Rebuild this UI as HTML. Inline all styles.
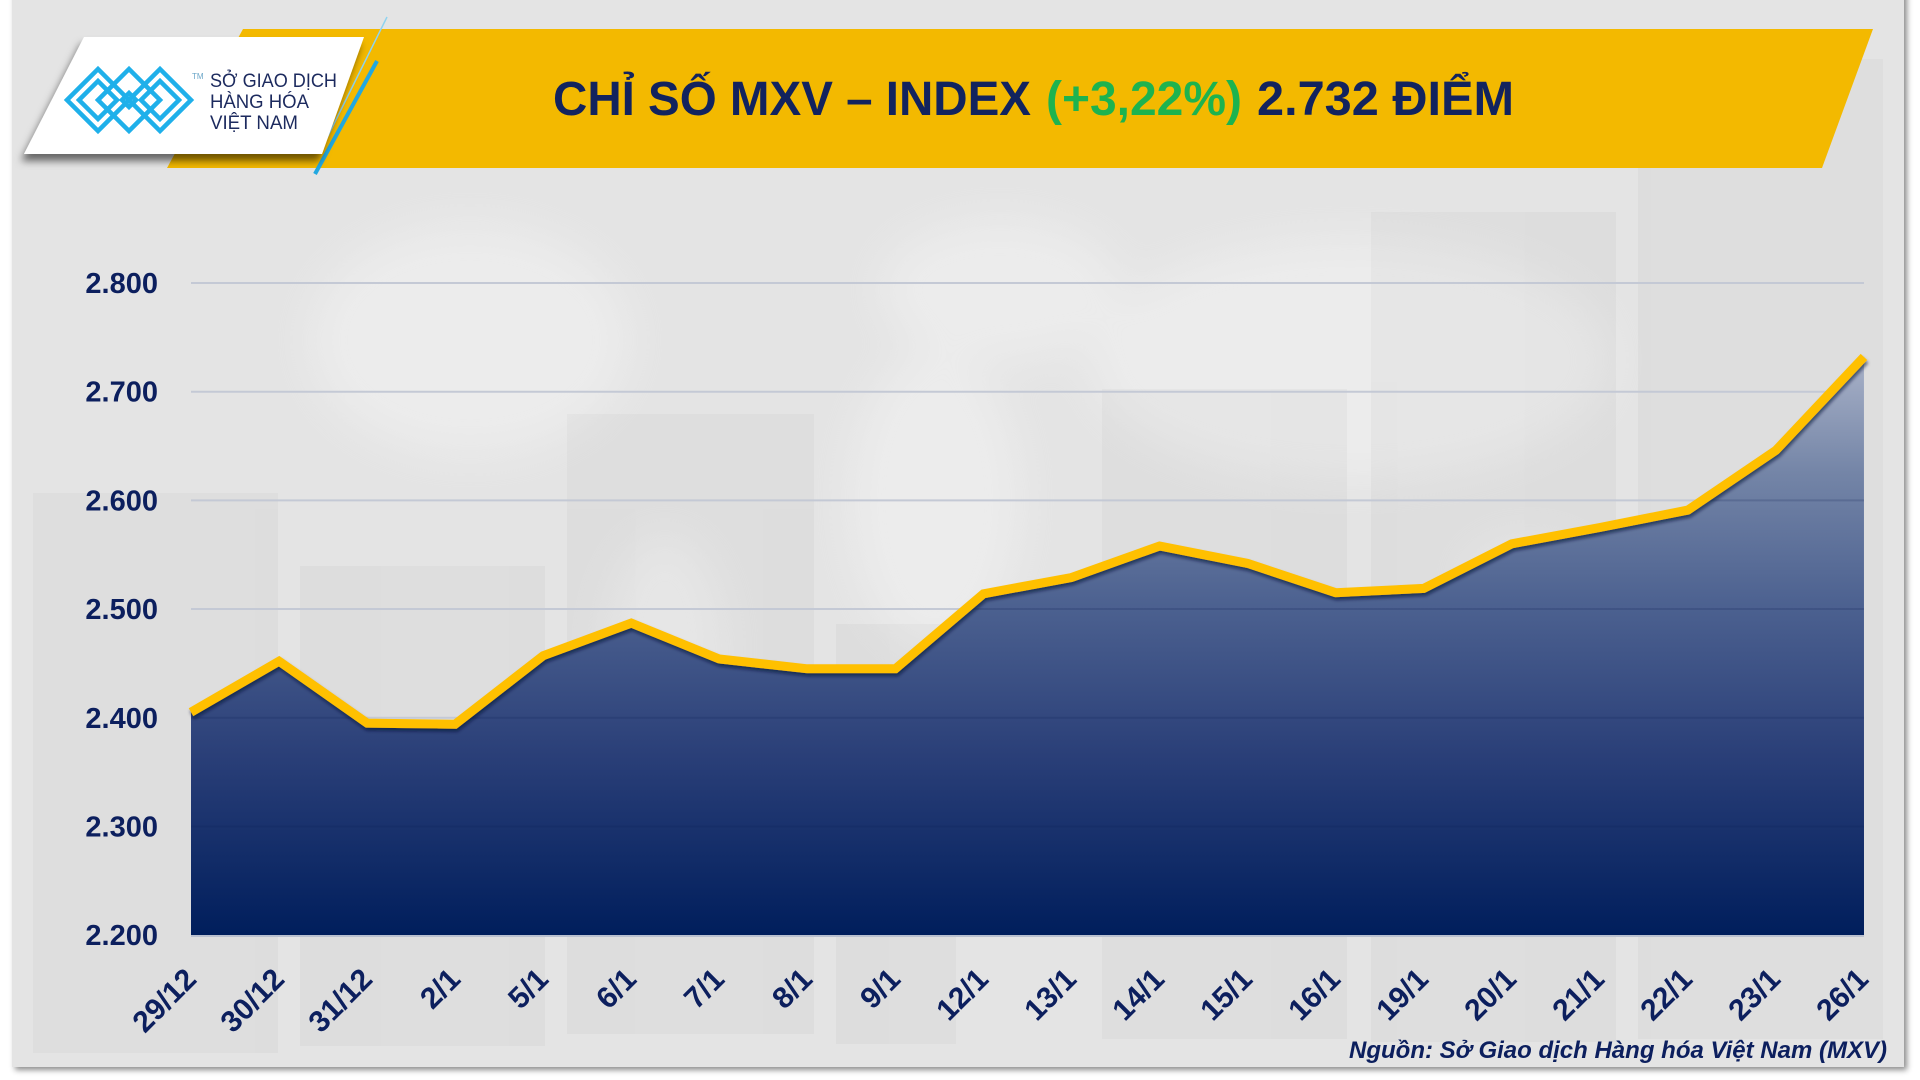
<!DOCTYPE html>
<html><head><meta charset="utf-8">
<style>
html,body{margin:0;padding:0;background:#fff;width:1920px;height:1080px;overflow:hidden}
svg{display:block}
text{font-family:"Liberation Sans","DejaVu Sans",sans-serif}
</style></head>
<body>
<svg width="1920" height="1080" viewBox="0 0 1920 1080" xmlns="http://www.w3.org/2000/svg">
<defs>
  <filter id="cardSh" x="-5%" y="-5%" width="110%" height="110%">
    <feDropShadow dx="3" dy="3" stdDeviation="3" flood-color="#000" flood-opacity="0.45"/>
  </filter>
  <filter id="logoSh" x="-20%" y="-20%" width="140%" height="160%">
    <feDropShadow dx="-3" dy="7" stdDeviation="4" flood-color="#000" flood-opacity="0.55"/>
  </filter>
  <filter id="lineSh" x="-5%" y="-10%" width="110%" height="120%">
    <feDropShadow dx="1" dy="3" stdDeviation="1.5" flood-color="#000a30" flood-opacity="0.6"/>
  </filter>
  <filter id="blur20"><feGaussianBlur stdDeviation="22"/></filter>
  <linearGradient id="areaG" gradientUnits="userSpaceOnUse" x1="0" y1="357" x2="0" y2="935">
    <stop offset="0" stop-color="#a9b2c8"/>
    <stop offset="0.2" stop-color="#7485a7"/>
    <stop offset="0.43" stop-color="#4c6190"/>
    <stop offset="0.69" stop-color="#2a3f78"/>
    <stop offset="1" stop-color="#001e5c"/>
  </linearGradient>
  <clipPath id="areaClip">
    <polygon points="191,712.2 279.05,661.2 367.1,723.1 455.15,724.2 543.2,655.7 631.25,623.1 719.3,659 807.35,668.8 895.4,668.8 983.45,593.8 1071.5,577.5 1159.55,546 1247.6,563.4 1335.65,592.7 1423.7,588.4 1511.75,543.8 1599.8,527.5 1687.85,510.1 1775.9,450.3 1863.95,356.9 1864,935 191,935"/>
  </clipPath>
</defs>

<rect x="0" y="0" width="1920" height="1080" fill="#ffffff"/>
<!-- card -->
<rect x="12" y="-10" width="1892" height="1077" fill="#e4e4e4" filter="url(#cardSh)"/>

<!-- faint world map -->
<g filter="url(#blur20)" fill="#ffffff" opacity="0.3">
  <ellipse cx="470" cy="340" rx="160" ry="115"/>
  <ellipse cx="665" cy="650" rx="60" ry="115"/>
  <ellipse cx="935" cy="500" rx="85" ry="150"/>
  <ellipse cx="1000" cy="290" rx="120" ry="70"/>
  <ellipse cx="1350" cy="360" rx="260" ry="120"/>
  <ellipse cx="1530" cy="580" rx="65" ry="40"/>
</g>
<!-- faint bars -->
<g fill="#000" opacity="0.022">
  <rect x="33" y="493" width="245" height="560"/>
  <rect x="300" y="566" width="245" height="480"/>
  <rect x="567" y="414" width="247" height="620"/>
  <rect x="836" y="624" width="120" height="420"/>
  <rect x="1102" y="389" width="245" height="650"/>
  <rect x="1371" y="212" width="245" height="830"/>
  <rect x="1638" y="59" width="245" height="980"/>
</g>

<!-- yellow banner -->
<polygon points="243,29 1873,29 1822,168 167,168" fill="#f3b900"/>
<!-- blue stripes -->
<line x1="387" y1="17" x2="321" y2="150" stroke="#8fd3f0" stroke-width="1.5"/>
<line x1="377" y1="61" x2="315" y2="174" stroke="#22a8e0" stroke-width="4"/>

<!-- logo -->
<polygon points="84,37 364,37 322,154 24,154" fill="#ffffff" filter="url(#logoSh)"/>
<g transform="translate(67,69)" fill="none" stroke="#1fb0ea" stroke-width="4.5" stroke-linejoin="miter">
  <polygon points="0,31 31,0 62,31 31,62"/>
  <polygon points="31,31 62,0 93,31 62,62"/>
  <polygon points="62,31 93,0 124,31 93,62"/>
  <polygon points="12,31 31,12 50,31 31,50"/>
  <polygon points="74,31 93,12 112,31 93,50"/>
  <polygon points="55,31 62,24 69,31 62,38"/>
</g>
<text x="192" y="79" font-size="8" fill="#6aa6c8">TM</text>
<g fill="#1c2a5e" font-size="19">
  <text x="210" y="87" textLength="127" lengthAdjust="spacingAndGlyphs">SỞ GIAO DỊCH</text>
  <text x="210" y="108" textLength="99" lengthAdjust="spacingAndGlyphs">HÀNG HÓA</text>
  <text x="210" y="129" textLength="88" lengthAdjust="spacingAndGlyphs">VIỆT NAM</text>
</g>

<!-- title -->
<g font-size="48" font-weight="bold">
  <text x="553" y="115" fill="#12235e" textLength="478" lengthAdjust="spacingAndGlyphs">CHỈ SỐ MXV – INDEX</text>
  <text x="1046" y="115" fill="#1db34f" textLength="196" lengthAdjust="spacingAndGlyphs">(+3,22%)</text>
  <text x="1257" y="115" fill="#12235e" textLength="257" lengthAdjust="spacingAndGlyphs">2.732 ĐIỂM</text>
</g>

<!-- gridlines -->
<g stroke="#c4c9d5" stroke-width="2">
  <line x1="191" y1="283" x2="1864" y2="283"/>
  <line x1="191" y1="391.7" x2="1864" y2="391.7"/>
  <line x1="191" y1="500.4" x2="1864" y2="500.4"/>
  <line x1="191" y1="609" x2="1864" y2="609"/>
  <line x1="191" y1="717.8" x2="1864" y2="717.8"/>
  <line x1="191" y1="826.5" x2="1864" y2="826.5"/>
</g>

<!-- area -->
<polygon points="191,712.2 279.05,661.2 367.1,723.1 455.15,724.2 543.2,655.7 631.25,623.1 719.3,659 807.35,668.8 895.4,668.8 983.45,593.8 1071.5,577.5 1159.55,546 1247.6,563.4 1335.65,592.7 1423.7,588.4 1511.75,543.8 1599.8,527.5 1687.85,510.1 1775.9,450.3 1863.95,356.9 1864,935 191,935" fill="url(#areaG)"/>
<g clip-path="url(#areaClip)" stroke="#0a1d55" stroke-opacity="0.18" stroke-width="2">
  <line x1="191" y1="500.4" x2="1864" y2="500.4"/>
  <line x1="191" y1="609" x2="1864" y2="609"/>
  <line x1="191" y1="717.8" x2="1864" y2="717.8"/>
  <line x1="191" y1="826.5" x2="1864" y2="826.5"/>
</g>
<line x1="191" y1="936" x2="1864" y2="936" stroke="#b9c0cf" stroke-width="2"/>

<!-- line -->
<polyline points="191,712.2 279.05,661.2 367.1,723.1 455.15,724.2 543.2,655.7 631.25,623.1 719.3,659 807.35,668.8 895.4,668.8 983.45,593.8 1071.5,577.5 1159.55,546 1247.6,563.4 1335.65,592.7 1423.7,588.4 1511.75,543.8 1599.8,527.5 1687.85,510.1 1775.9,450.3 1863.95,356.9" fill="none" stroke="#ffc000" stroke-width="9" stroke-linejoin="miter" stroke-miterlimit="3" stroke-linecap="butt" filter="url(#lineSh)"/>

<!-- y labels -->
<g font-size="29" font-weight="bold" fill="#0c1f5e" text-anchor="end">
  <text x="158" y="293">2.800</text>
  <text x="158" y="401.7">2.700</text>
  <text x="158" y="510.4">2.600</text>
  <text x="158" y="619">2.500</text>
  <text x="158" y="727.8">2.400</text>
  <text x="158" y="836.5">2.300</text>
  <text x="158" y="945">2.200</text>
</g>

<!-- x labels -->
<g font-size="30" font-weight="bold" fill="#0c1f5e" text-anchor="end">
  <text transform="translate(198,981) rotate(-45)">29/12</text>
  <text transform="translate(286,981) rotate(-45)">30/12</text>
  <text transform="translate(374,981) rotate(-45)">31/12</text>
  <text transform="translate(462,981) rotate(-45)">2/1</text>
  <text transform="translate(550,981) rotate(-45)">5/1</text>
  <text transform="translate(638,981) rotate(-45)">6/1</text>
  <text transform="translate(726,981) rotate(-45)">7/1</text>
  <text transform="translate(814,981) rotate(-45)">8/1</text>
  <text transform="translate(902,981) rotate(-45)">9/1</text>
  <text transform="translate(990,981) rotate(-45)">12/1</text>
  <text transform="translate(1078,981) rotate(-45)">13/1</text>
  <text transform="translate(1166,981) rotate(-45)">14/1</text>
  <text transform="translate(1254,981) rotate(-45)">15/1</text>
  <text transform="translate(1342,981) rotate(-45)">16/1</text>
  <text transform="translate(1430,981) rotate(-45)">19/1</text>
  <text transform="translate(1518,981) rotate(-45)">20/1</text>
  <text transform="translate(1606,981) rotate(-45)">21/1</text>
  <text transform="translate(1694,981) rotate(-45)">22/1</text>
  <text transform="translate(1782,981) rotate(-45)">23/1</text>
  <text transform="translate(1870,981) rotate(-45)">26/1</text>
</g>

<!-- source -->
<text x="1349" y="1058" font-size="24" font-weight="bold" font-style="italic" fill="#0c1f5e" textLength="538" lengthAdjust="spacingAndGlyphs">Nguồn: Sở Giao dịch Hàng hóa Việt Nam (MXV)</text>
</svg>
</body></html>
